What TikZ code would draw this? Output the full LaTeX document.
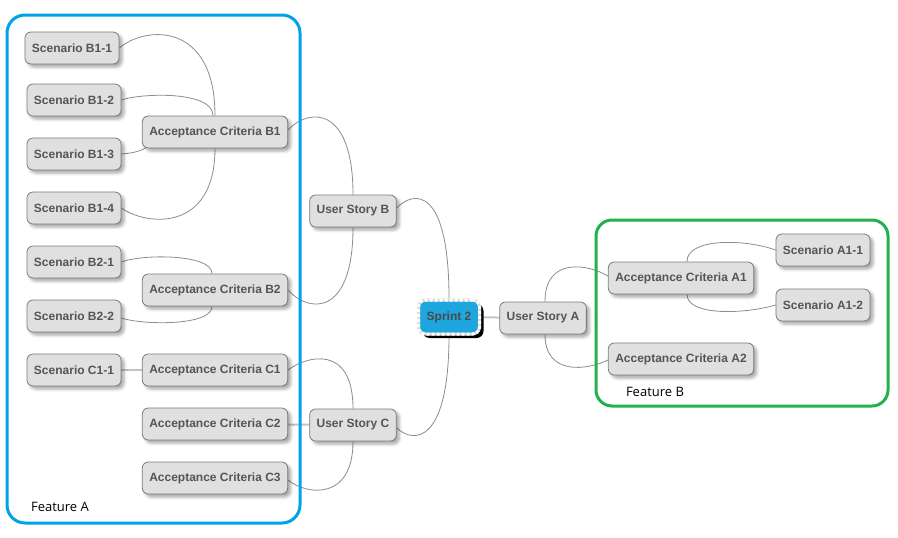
\documentclass[tikz,border=0pt]{standalone}
\usepackage{fontspec}
\setmainfont{Liberation Sans}
\newfontfamily\featfont{Open Sans}
\usetikzlibrary{shadows,shadows.blur,calc}
\definecolor{nodefill}{HTML}{E0E0E0}
\definecolor{nodedraw}{HTML}{7A7A7A}
\definecolor{nodetext}{HTML}{555555}
\definecolor{linkc}{HTML}{8C8C8C}
\definecolor{straightc}{HTML}{C4C4C4}
\definecolor{featblue}{HTML}{00A2E8}
\definecolor{featgreen}{HTML}{22B14C}
\definecolor{sprintblue}{HTML}{20A6DF}
\definecolor{sprinttext}{HTML}{4A4A4A}
\pgfdeclarelayer{bg}
\pgfsetlayers{bg,main}
\begin{document}
\begin{tikzpicture}[x=1pt,y=-1pt,
  topic/.style={draw=nodedraw, fill=nodefill, line width=0.8pt, rounded corners=6pt,
    minimum height=32pt, inner xsep=7pt, inner ysep=2pt, text=nodetext,
    font=\bfseries\fontsize{12}{14}\selectfont,
    blur shadow={shadow xshift=3pt, shadow yshift=-3pt, shadow blur radius=3pt, shadow opacity=35}},
  central/.style={fill=sprintblue, draw=gray!30, line width=3pt, rounded corners=7pt,
    minimum height=34pt, minimum width=61pt, inner xsep=8pt, text=sprinttext,
    font=\bfseries\fontsize{12}{14}\selectfont,
    drop shadow={shadow xshift=4pt, shadow yshift=-4pt, fill=black, opacity=1},
    postaction={draw=white, line width=3pt, dash pattern=on 3pt off 2pt}},
  link/.style={draw=linkc, line width=0.8pt},
  straight/.style={draw=straightc, line width=2pt},
  frameA/.style={draw=featblue, line width=3pt, rounded corners=18pt},
  frameB/.style={draw=featgreen, line width=3pt, rounded corners=16pt},
  featlabel/.style={font=\featfont\fontsize{13}{15}\selectfont, text=black, inner sep=0pt}
]
\useasboundingbox (0,0) rectangle (898,538);

% nodes
\node[topic] (b11) at (72,48) {Scenario B1-1};
\node[topic] (b12) at (74,100) {Scenario B1-2};
\node[topic] (b13) at (74,154) {Scenario B1-3};
\node[topic] (b14) at (74,208) {Scenario B1-4};
\node[topic] (acb1) at (215,132) {Acceptance Criteria B1};
\node[topic] (b21) at (74,262) {Scenario B2-1};
\node[topic] (acb2) at (215,290) {Acceptance Criteria B2};
\node[topic] (b22) at (74,316) {Scenario B2-2};
\node[topic] (c11) at (74,370) {Scenario C1-1};
\node[topic] (acc1) at (215,370) {Acceptance Criteria C1};
\node[topic] (acc2) at (215,424) {Acceptance Criteria C2};
\node[topic] (acc3) at (215,478) {Acceptance Criteria C3};
\node[topic] (usb) at (353,211) {User Story B};
\node[topic] (usc) at (353,425) {User Story C};
\node[central] (sprint) at (449,317) {Sprint 2};
\node[topic] (usa) at (543,318) {User Story A};
\node[topic] (aca1) at (681,278) {Acceptance Criteria A1};
\node[topic] (a11) at (823,250) {Scenario A1-1};
\node[topic] (a12) at (823,305) {Scenario A1-2};
\node[topic] (aca2) at (681,359) {Acceptance Criteria A2};
\node[featlabel] (fa) at (60,507) {Feature A};
\node[featlabel] (fb) at (655,392) {Feature B};

\begin{pgfonlayer}{bg}
% connectors
\draw[link] (b11.east) .. controls +(25,-22) and +(0,-95) .. (acb1.north);
\draw[link] (b12.east) .. controls +(20,-7) and +(0,-25) .. ($(acb1.north)+(-2,0)$);
\draw[link] (b13.east) .. controls +(14,-1) and +(-6,3) .. ($(acb1.south west)+(5,-1)$);
\draw[link] (b14.east) .. controls +(25,18) and +(0,84) .. (acb1.south);
\draw[link] (b21.east) .. controls +(20,-8) and +(0,-20) .. ($(acb2.north)+(-3,0)$);
\draw[link] ($(b22.east)+(0,2)$) .. controls +(20,7) and +(0,20) .. ($(acb2.south)+(-3,0)$);
\draw[straight] (c11) -- (acc1);
\draw[link] ($(acb1.east)+(0,-2)$) .. controls +(20,-22) and +(0,-90) .. (usb.north);
\draw[link] (acb2.east) .. controls +(20,23) and +(0,90) .. (usb.south);
\draw[link] ($(usb.east)+(0,-3)$) .. controls +(17,-18) and +(0,-112) .. (sprint.north);
\draw[link] ($(usc.east)+(0,3)$) .. controls +(17,16) and +(0,108) .. (sprint.south);
\draw[link] (acc1.east) .. controls +(18,-14) and +(0,-65) .. (usc.north);
\draw[straight] (acc2) -- (usc);
\draw[link] ($(acc3.east)+(0,2)$) .. controls +(18,15) and +(0,60) .. (usc.south);
\draw[straight] (sprint) -- (usa);
\draw[link] ($(usa.north)+(2,0)$) .. controls +(0,-45) and +(-20,-12) .. ($(aca1.west)+(0,-2)$);
\draw[link] ($(usa.south)+(2,0)$) .. controls +(0,42) and +(-20,10) .. ($(aca2.west)+(0,1)$);
\draw[link] ($(aca1.north)+(6,0)$) .. controls +(0,-24) and +(-30,-11) .. (a11.west);
\draw[link] ($(aca1.south)+(6,0)$) .. controls +(0,22) and +(-30,9) .. (a12.west);
% frames
\draw[frameA] (7,15) rectangle (300,523);
\draw[frameB] (596,220) rectangle (888,406);
\end{pgfonlayer}
\end{tikzpicture}
\end{document}
